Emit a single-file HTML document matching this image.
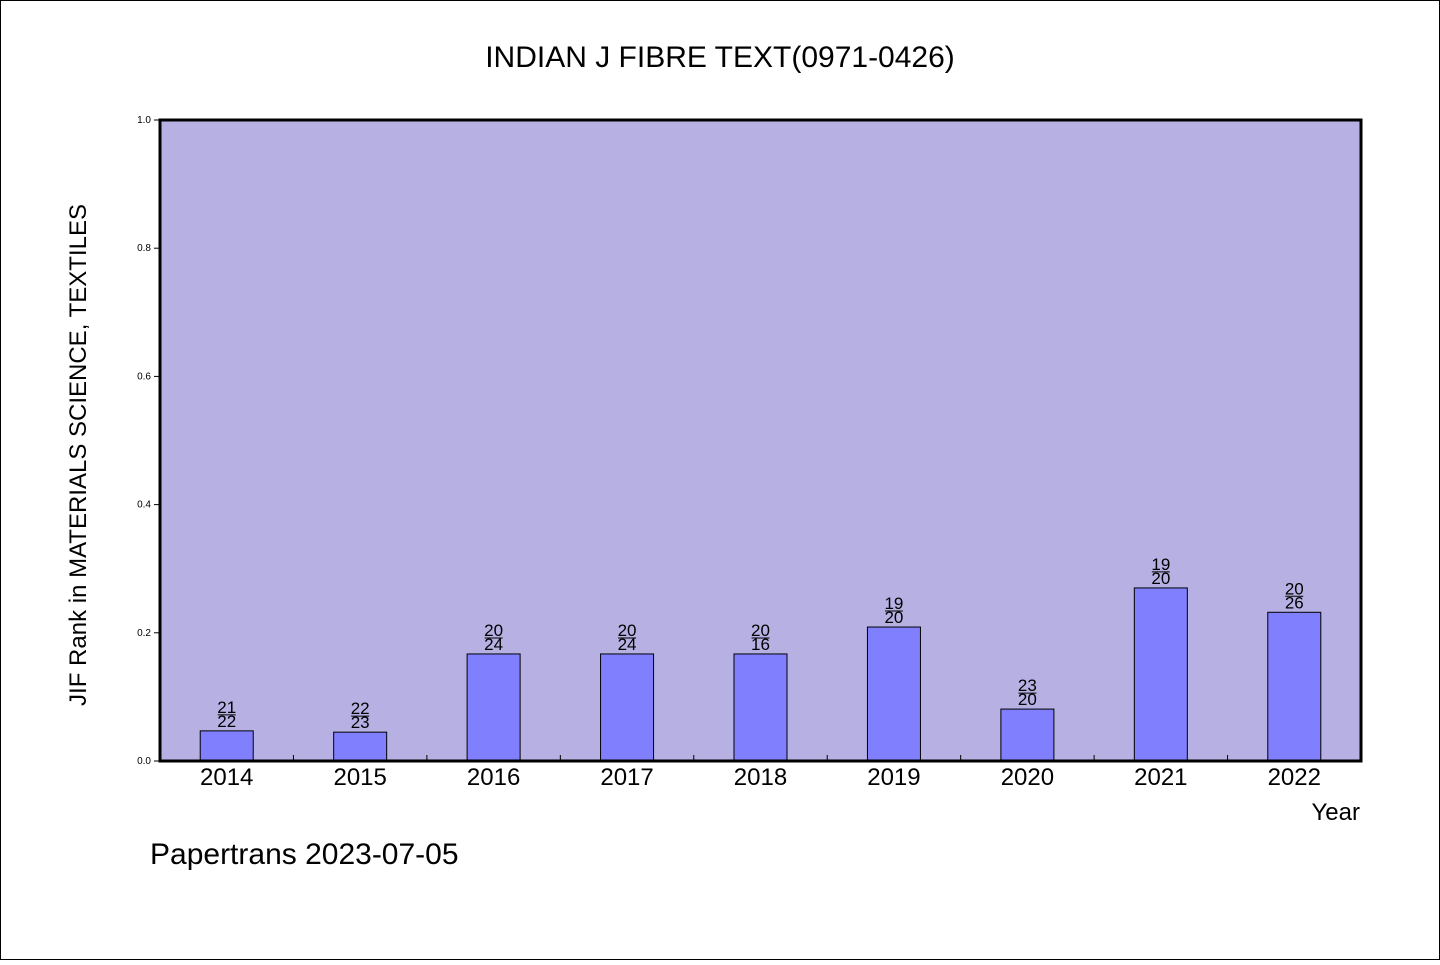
<!DOCTYPE html>
<html><head><meta charset="utf-8"><style>
body{margin:0;background:#fff}
svg text{font-family:"WenQuanYi Zen Hei","Liberation Sans",sans-serif}
</style></head><body>
<svg width="1440" height="960" xmlns="http://www.w3.org/2000/svg">
<rect x="0.5" y="0.5" width="1439" height="959" fill="#fff" stroke="#000"/>
<text x="720" y="67" text-anchor="middle" font-size="30">INDIAN J FIBRE TEXT(0971-0426)</text>
<rect x="160" y="120" width="1201" height="641" fill="#b6b0e3"/>
<g id="bars"></g>
<rect x="160" y="120" width="1201" height="641" fill="none" stroke="#000" stroke-width="3"/>
<g id="axes"></g>
<text x="1360" y="820" text-anchor="end" font-size="24">Year</text>
<text transform="translate(86,455) rotate(-90)" text-anchor="middle" font-size="24">JIF Rank in MATERIALS SCIENCE, TEXTILES</text>
<text x="150" y="864" font-size="30">Papertrans 2023-07-05</text>
</svg>
<script>
const years=["2014","2015","2016","2017","2018","2019","2020","2021","2022"];
const values=[0.047,0.045,0.167,0.167,0.167,0.209,0.081,0.27,0.232];
const ranks=["21","22","20","20","20","19","23","19","20"];
const totals=["22","23","24","24","16","20","20","20","26"];
const yTicks=[0,0.2,0.4,0.6,0.8,1.0];
const NS="http://www.w3.org/2000/svg";
const L=160,R=1361,T=120,B=761;
const slot=(R-L)/years.length;
const xc=i=>L+slot*(i+0.5);
const y=v=>B-v*(B-T);
function mk(tag,attrs,parent,txt){const e=document.createElementNS(NS,tag);for(const k in attrs)e.setAttribute(k,attrs[k]);if(txt!==undefined)e.textContent=txt;parent.appendChild(e);return e;}
const gb=document.getElementById('bars'),ga=document.getElementById('axes');
years.forEach((yr,i)=>{
  const bw=53,top=y(values[i]);
  const b=mk('rect',{x:xc(i)-bw/2,y:top,width:bw,height:B-top,fill:'#8080ff',stroke:'#000','stroke-width':1},gb);
  
  
  const t1=mk('text',{x:xc(i),y:top-18,'text-anchor':'middle','font-size':17},gb,ranks[i]);
  
  
  const ln=mk('line',{x1:xc(i)-9,x2:xc(i)+9,y1:top-16,y2:top-16,stroke:'#000','stroke-width':1},gb);
  
  
  const t2=mk('text',{x:xc(i),y:top-4,'text-anchor':'middle','font-size':17},gb,totals[i]);
  
  
  const xl=mk('text',{x:xc(i),y:785,'text-anchor':'middle','font-size':24},ga,yr);
  
  
  if(i>0){const tk=mk('line',{x1:L+slot*i,x2:L+slot*i,y1:B,y2:B-6,stroke:'#000'},ga);
  
  }
});
yTicks.forEach(v=>{
  const tk=mk('line',{x1:L-6,x2:L,y1:y(v),y2:y(v),stroke:'#000'},ga);
  
  
  const tl=mk('text',{x:L-9,y:y(v)+3,'text-anchor':'end','font-size':10},ga,v.toFixed(1));
  
  
});
</script>
</body></html>
